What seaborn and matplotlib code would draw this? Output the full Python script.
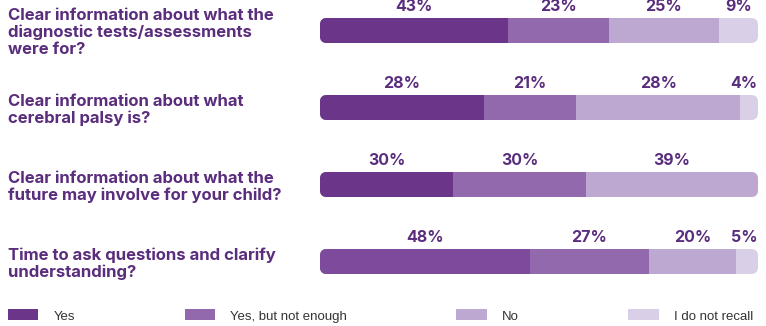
import numpy as np
import pandas as pd
import matplotlib
matplotlib.use("Agg")
import matplotlib.pyplot as plt
from matplotlib.patches import Patch, FancyBboxPatch
from matplotlib.transforms import IdentityTransform
import seaborn as sns

# ---------------- data ----------------
questions = [
    "Clear information about what the\ndiagnostic tests/assessments\nwere for?",
    "Clear information about what\ncerebral palsy is?",
    "Clear information about what the\nfuture may involve for your child?",
    "Time to ask questions and clarify\nunderstanding?",
]
categories = ["Yes", "Yes, but not enough", "No", "I do not recall"]

# printed percentages
yes_lbl = [43, 28, 30, 48]
partial_lbl = [23, 21, 30, 27]
no_lbl = [25, 28, 39, 20]
recall_lbl = [9, 4, None, 5]

# segment lengths as drawn (share of bar)
yes_len = [43, 37.5, 30.4, 48]
partial_len = [23, 21, 30.4, 27]
no_len = [25, 37.5, 39.2, 20]
recall_len = [9, 4, 0, 5]

# ---------------- style ----------------
c_yes = "#6b3589"
c_yes_alt = "#7e4a9c"
c_partial = "#9269ad"
c_no = "#bda8d1"
c_recall = "#d9cfe6"
text_col = "#5a2d7d"

sns.set_theme(style="white")
plt.rcParams["font.family"] = ["Inter", "DejaVu Sans"]

df = pd.DataFrame({
    "question": questions,
    "yes": yes_len,
    "partial": partial_len,
    "no": no_len,
    "recall": recall_len,
})
df["c1"] = df["yes"]
df["c2"] = df["c1"] + df["partial"]
df["c3"] = df["c2"] + df["no"]
df["c4"] = df["c3"] + df["recall"]

W, H = 766, 326
fig = plt.figure(figsize=(W / 100, H / 100), dpi=100)
ax_top, ax_bot = 0, 290
ax = fig.add_axes([320 / W, 1 - ax_bot / H, 438 / W, (ax_bot - ax_top) / H])

bar_h = 0.325
order = questions
sns.barplot(data=df, y="question", x="c4", order=order, color=c_recall,
            width=bar_h, ax=ax, saturation=1, linewidth=0)
sns.barplot(data=df, y="question", x="c3", order=order, color=c_no,
            width=bar_h, ax=ax, saturation=1, linewidth=0)
sns.barplot(data=df, y="question", x="c2", order=order, color=c_partial,
            width=bar_h, ax=ax, saturation=1, linewidth=0)
sns.barplot(data=df, y="question", x="c1", order=order, hue="question",
            palette=[c_yes, c_yes, c_yes, c_yes_alt], legend=False,
            width=bar_h, ax=ax, saturation=1, linewidth=0)

ax.set_xlim(0, 100)
px_per_unit = 77.0
y0 = -30.5 / px_per_unit
y1 = 3 + (ax_bot - 261.5) / px_per_unit
ax.set_ylim(y1, y0)

# rounded clipping of each full bar (in display pixels)
radius_px = 7
clips = []
for i in range(len(questions)):
    tot = df["c4"].iloc[i]
    (xa, ya) = ax.transData.transform((0, i + bar_h / 2))
    (xb, yb) = ax.transData.transform((tot, i - bar_h / 2))
    x_lo, x_hi = min(xa, xb), max(xa, xb)
    y_lo, y_hi = min(ya, yb), max(ya, yb)
    bb = FancyBboxPatch((x_lo, y_lo), x_hi - x_lo, y_hi - y_lo,
                        boxstyle=f"round,pad=0,rounding_size={radius_px}",
                        transform=IdentityTransform(),
                        facecolor="none", edgecolor="none")
    clips.append(bb)
for p in ax.patches:
    yc = p.get_y() + p.get_height() / 2
    i = int(round(yc))
    if 0 <= i < len(clips):
        p.set_clip_path(clips[i])

# percentage labels
for i in range(len(questions)):
    lens = [yes_len[i], partial_len[i], no_len[i], recall_len[i]]
    lbls = [yes_lbl[i], partial_lbl[i], no_lbl[i], recall_lbl[i]]
    start = 0
    for L, lab in zip(lens, lbls):
        if lab is not None and L > 0:
            xc = min(start + L / 2, 96.8)
            ax.annotate(f"{lab}%", (xc, i - bar_h / 2), xytext=(0, 5),
                        textcoords="offset points", ha="center", va="baseline",
                        fontsize=11.5, fontweight="bold", color=text_col,
                        annotation_clip=False)
        start += L

# axes cosmetics
sns.despine(ax=ax, left=True, bottom=True)
ax.set_xlabel("")
ax.set_ylabel("")
ax.set_xticks([])
ax.tick_params(axis="y", length=0, pad=(320 - 8) * 72 / 100)
for t in ax.get_yticklabels():
    t.set_ha("left")
    t.set_fontsize(12)
    t.set_fontweight("bold")
    t.set_color(text_col)
    t.set_linespacing(1.12)

# legend
handles = [Patch(facecolor=c, edgecolor="none") for c in [c_yes, c_partial, c_no, c_recall]]
fig.legend(handles, categories, loc="center left", bbox_to_anchor=(8 / W, 10 / H),
           ncol=4, frameon=False, handlelength=2.3, handleheight=0.9,
           handletextpad=1.15, columnspacing=8.3, borderpad=0, borderaxespad=0,
           prop={"family": ["Liberation Sans", "DejaVu Sans"], "size": 9.5},
           labelcolor="#333333")

fig.savefig("out.png", dpi=100)
